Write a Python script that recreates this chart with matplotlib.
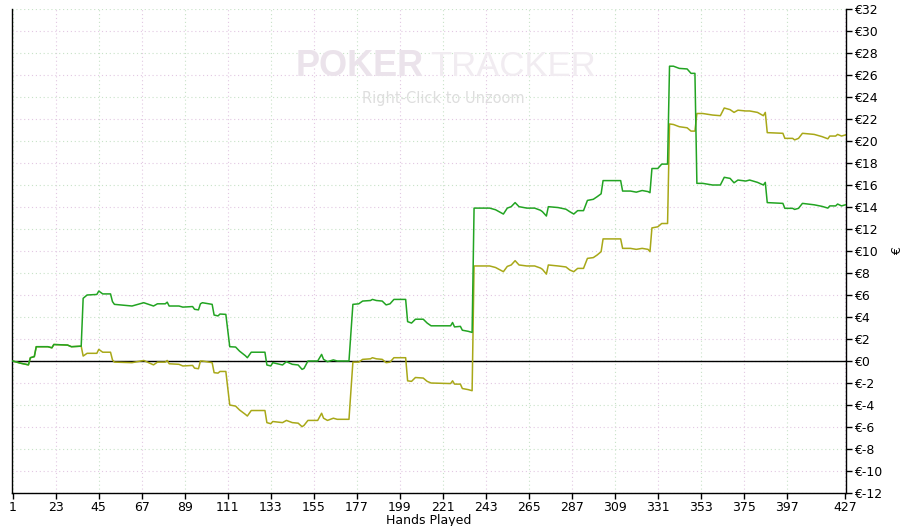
import numpy as np
import matplotlib
matplotlib.use('Agg')
import matplotlib.pyplot as plt

# hand number at each break point of the two lines
hands = [1, 5, 9, 10, 12, 13, 19, 21, 22, 29, 31, 36, 37, 39, 44, 45, 47, 51, 52, 53,
         62, 68, 73, 75, 79, 80, 81, 86, 88, 93, 94, 96, 97, 98, 103, 104, 106, 107, 110, 112,
         115, 117, 120, 121, 123, 130, 131, 133, 134, 139, 141, 144, 147, 149, 150, 152, 157, 159, 160, 162,
         165, 167, 173, 175, 178, 180, 184, 185, 187, 190, 192, 194, 196, 202, 203, 205, 207, 211, 213, 215,
         225, 226, 227, 230, 231, 234, 236, 237, 245, 248, 252, 254, 256, 258, 260, 264, 268, 271, 272, 274,
         275, 280, 284, 286, 288, 290, 293, 295, 298, 300, 302, 303, 312, 313, 317, 320, 323, 326, 327, 328,
         331, 333, 336, 337, 339, 342, 346, 348, 350, 351, 354, 359, 363, 365, 368, 370, 372, 376, 378, 382,
         385, 386, 387, 395, 396, 400, 401, 403, 405, 411, 415, 418, 419, 422, 423, 425, 427]

# winnings (green)
won = [0, -0.2, -0.35, 0.3, 0.4, 1.3, 1.3, 1.2, 1.5, 1.45, 1.3, 1.35, 5.7, 6.0, 6.05, 6.36, 6.1, 6.1, 5.4, 5.15,
       5.0, 5.3, 5.0, 5.2, 5.2, 5.35, 5.0, 5.0, 4.9, 4.95, 4.7, 4.65, 5.2, 5.3, 5.15, 4.18, 4.1, 4.27, 4.24, 1.3,
       1.27, 0.9, 0.48, 0.3, 0.8, 0.8, -0.36, -0.45, -0.15, -0.36, -0.06, -0.3, -0.36, -0.76, -0.67, 0.0, 0.0, 0.6, 0.15, -0.06,
       0.1, 0.0, 0.0, 5.15, 5.2, 5.45, 5.5, 5.6, 5.5, 5.45, 5.1, 5.2, 5.6, 5.6, 3.58, 3.45, 3.8, 3.8, 3.45, 3.2,
       3.2, 3.5, 3.1, 3.15, 2.8, 2.7, 2.6, 13.9, 13.9, 13.75, 13.36, 13.9, 14.03, 14.4, 14.03, 13.9, 13.9, 13.7, 13.57, 13.18,
       14.03, 13.95, 13.8, 13.57, 13.36, 13.67, 13.67, 14.6, 14.7, 14.94, 15.2, 16.4, 16.4, 15.45, 15.45, 15.35, 15.5, 15.4, 15.3, 17.5,
       17.5, 17.9, 17.9, 26.8, 26.8, 26.6, 26.55, 26.15, 26.15, 16.15, 16.15, 16.0, 16.0, 16.7, 16.6, 16.2, 16.45, 16.36, 16.45, 16.24,
       16.0, 16.24, 14.4, 14.33, 13.88, 13.88, 13.78, 13.88, 14.33, 14.2, 14.06, 13.9, 14.1, 14.1, 14.27, 14.1, 14.2]

# all-in adjusted (olive)
adj = [0, -0.2, -0.35, 0.3, 0.4, 1.3, 1.3, 1.2, 1.5, 1.45, 1.3, 1.35, 0.45, 0.7, 0.7, 1.06, 0.8, 0.8, 0.1, -0.1,
       -0.15, 0.05, -0.35, -0.1, -0.1, 0.05, -0.25, -0.3, -0.45, -0.4, -0.65, -0.7, 0.0, 0.0, -0.15, -1.06, -1.1, -0.95, -0.95, -4.0,
       -4.1, -4.45, -4.85, -5.0, -4.5, -4.5, -5.6, -5.7, -5.5, -5.6, -5.4, -5.6, -5.65, -5.97, -5.85, -5.4, -5.4, -4.75, -5.2, -5.4,
       -5.2, -5.3, -5.3, -0.1, -0.1, 0.15, 0.2, 0.3, 0.2, 0.15, -0.15, -0.1, 0.3, 0.3, -1.8, -1.85, -1.5, -1.55, -1.85, -2.0,
       -2.05, -1.8, -2.1, -2.1, -2.5, -2.6, -2.7, 8.64, 8.64, 8.5, 8.12, 8.6, 8.73, 9.12, 8.73, 8.64, 8.64, 8.45, 8.33, 7.9,
       8.73, 8.64, 8.55, 8.27, 8.12, 8.42, 8.42, 9.33, 9.4, 9.64, 9.94, 11.1, 11.1, 10.24, 10.24, 10.15, 10.24, 10.15, 9.94, 12.1,
       12.2, 12.5, 12.5, 21.55, 21.5, 21.3, 21.2, 20.9, 20.9, 22.5, 22.5, 22.36, 22.3, 23.0, 22.85, 22.6, 22.8, 22.73, 22.73, 22.6,
       22.3, 22.6, 20.76, 20.7, 20.24, 20.24, 20.1, 20.24, 20.7, 20.6, 20.4, 20.2, 20.45, 20.45, 20.6, 20.45, 20.55]

xticks = [1, 23, 45, 67, 89, 111, 133, 155, 177, 199, 221, 243, 265, 287, 309, 331, 353, 375, 397, 427]
yticks = list(range(-12, 33, 2))

fig = plt.figure(figsize=(9.03, 5.26), dpi=100)
ax = fig.add_axes([0.0133, 0.0627, 0.9236, 0.9202])

# dotted grid, alternating pinkish / greenish like the original
for i, x in enumerate(xticks):
    ax.axvline(x, color='#e2c8e2' if i % 2 else '#c8e2c8', lw=0.8, ls=(0, (1, 2.5)), zorder=0)
for i, y in enumerate(yticks):
    ax.axhline(y, color='#e2c8e2' if i % 2 else '#c8e2c8', lw=0.8, ls=(0, (1, 2.5)), zorder=0)

# watermark
fig.text(0.327, 0.855, 'POKER', fontsize=26, fontweight='bold', color='#ebe3eb',
         family='Liberation Sans', zorder=0)
fig.text(0.476, 0.855, 'TRACKER', fontsize=25, color='#f1ecf1', family='Liberation Sans', zorder=0)
fig.text(0.401, 0.805, 'Right-Click to Unzoom', fontsize=10.5, color='#dedede', zorder=0)

ax.axhline(0, color='black', lw=1, zorder=1)
ax.plot(hands, adj, color='#a8a818', lw=1.1, zorder=2)
ax.plot(hands, won, color='#22a422', lw=1.1, zorder=3)

ax.set_xlim(0.6, 427.3)
ax.set_ylim(-12, 32)
ax.set_xticks(xticks)
ax.set_yticks(yticks)
ax.set_yticklabels(['€%d' % v for v in yticks])
ax.yaxis.tick_right()
ax.yaxis.set_label_position('right')
ax.tick_params(axis='both', direction='out', length=4, width=1, labelsize=9, colors='black')
ax.tick_params(axis='y', pad=2)
ax.tick_params(axis='x', pad=2)
ax.spines['top'].set_visible(False)
for s in ['left', 'right', 'bottom']:
    ax.spines[s].set_color('black')
    ax.spines[s].set_linewidth(1)

ax.set_xlabel('Hands Played', fontsize=9, labelpad=0)
ax.set_ylabel('€', fontsize=9, labelpad=6)

fig.savefig('out.png', dpi=100)
